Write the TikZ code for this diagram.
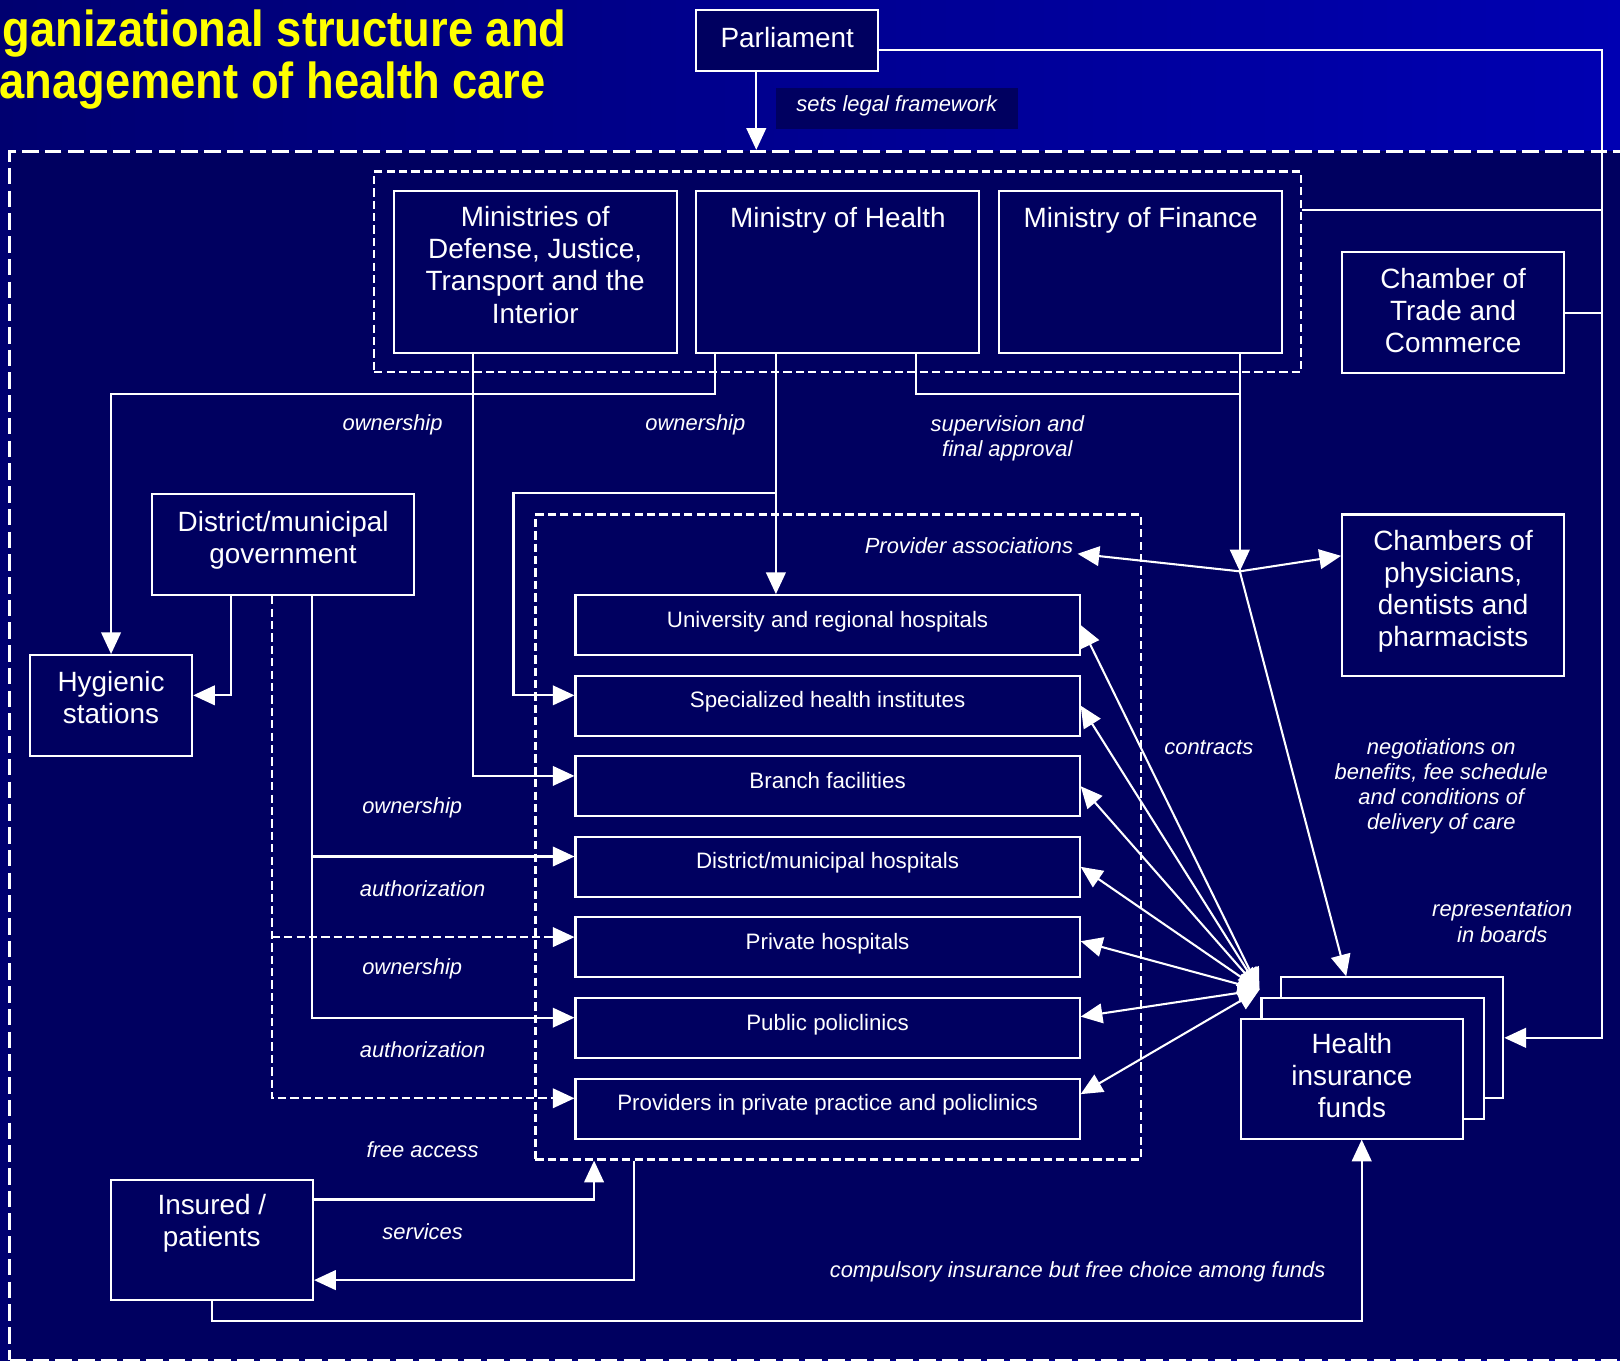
\documentclass[tikz,border=0pt]{standalone}
\usepackage{graphicx}
\usepackage{fontspec}
\setmainfont{Liberation Sans}
\usetikzlibrary{arrows.meta,calc}
\definecolor{navy}{RGB}{0,0,96}
\definecolor{slidel}{RGB}{0,0,112}
\definecolor{slider}{RGB}{0,0,178}
\definecolor{ttl}{RGB}{255,255,0}
\newcommand\bxfont{\fontsize{13.5}{15.5}\selectfont}
\newcommand\pvfont{\fontsize{10.8}{13}\selectfont}
\newcommand\lbfont{\fontsize{10.6}{12.2}\selectfont\itshape}

\begin{document}
\begin{tikzpicture}[x=.5pt, y=-.5pt,
  box/.style={draw=white, line width=1pt, fill=navy, text=white, font=\bxfont, align=center, anchor=north west, inner sep=0pt},
  prov/.style={box, font=\pvfont, minimum width=244pt, minimum height=29pt, text height=7.5pt, text depth=5.5pt},
  grp/.style={draw=white, line width=1.2pt, dash pattern=on 4pt off 2pt, anchor=north west, inner sep=0pt},
  mlbl/.style={text=white, font=\bxfont, inner sep=0pt, align=center},
  txt/.style={mlbl, anchor=center},
  lbl/.style={text=white, font=\lbfont, align=center, inner sep=0pt},
  conn/.style={draw=white, line width=1pt},
  dsh/.style={dash pattern=on 4pt off 2pt},
  harr/.style={-{Triangle[length=10.5pt,width=9.5pt]}},
  darr/.style={{Triangle[length=10.5pt,width=9.5pt]}-{Triangle[length=10.5pt,width=9.5pt]}}]
\useasboundingbox (0,0) rectangle (1568,1317);
\fill[left color=slidel, right color=slider] (0,0) rectangle (1568,1317);

% health care system
\node[draw=white, fill=navy, line width=1.5pt, dash pattern=on 8pt off 3pt, anchor=north west, inner sep=0pt, minimum width=787pt, minimum height=585pt] (hc) at (8,145) {};

% title
\node[anchor=base west, text=ttl, font=\fontsize{24.5}{28}\selectfont\bfseries, inner sep=0pt] (ttl1) at (2,45) {\scalebox{.895}[1]{ganizational structure and}};
\node[anchor=base west, text=ttl, font=\fontsize{24.5}{28}\selectfont\bfseries, inner sep=0pt] (ttl2) at (-1,95) {\scalebox{.895}[1]{anagement of health care}};

% boxes
\node[box, minimum width=88pt, minimum height=29.5pt, label={[txt, yshift=1.5pt]center:Parliament}] (parl) at (673,9) {};
\node[fill=navy, text=white, font=\lbfont, minimum width=117pt, minimum height=20pt, inner sep=0pt, text height=8pt, text depth=5pt] (slf) at (868,105) {sets legal framework};
\node[grp, minimum width=448.5pt, minimum height=97pt] (mins) at (361,165) {};
\node[box, minimum width=137pt, minimum height=78.5pt, label={[txt, yshift=3.5pt]center:{Ministries of\\Defense, Justice,\\Transport and the\\Interior}}] (mdef) at (380,184) {};
\node[box, minimum width=137pt, minimum height=78.5pt, label={[mlbl, anchor=north, yshift=-8pt]north:Ministry of Health}] (moh) at (673,184) {};
\node[box, minimum width=137pt, minimum height=78.5pt, label={[mlbl, anchor=north, yshift=-8pt]north:Ministry of Finance}] (mof) at (966,184) {};
\node[box, minimum width=107.5pt, minimum height=58.5pt, label={[txt, yshift=.75pt]center:{Chamber of\\Trade and\\Commerce}}] (ctc) at (1298,243) {};
\node[box, minimum width=107.5pt, minimum height=78pt, label={[txt, yshift=2pt]center:{Chambers of\\physicians,\\dentists and\\pharmacists}}] (chph) at (1298,497) {};
\node[box, minimum width=127pt, minimum height=49pt, label={[txt, yshift=2pt]center:{District/municipal\\government}}] (dist) at (146,477) {};
\node[box, minimum width=78.5pt, minimum height=49pt, label={[txt, yshift=3.75pt]center:{Hygienic\\stations}}] (hyg) at (28,633) {};

\node[grp, minimum width=293pt, minimum height=312pt] (pg) at (517,497) {};
\node[prov] (univ) at (556,575) {University and regional hospitals};
\node[prov] (spec) at (556,653) {Specialized health institutes};
\node[prov] (brch) at (556,731) {Branch facilities};
\node[prov] (dmh) at (556,809) {District/municipal hospitals};
\node[prov] (priv) at (556,887) {Private hospitals};
\node[prov] (pub) at (556,965) {Public policlinics};
\node[prov] (ppp) at (556,1043) {Providers in private practice and policlinics};

\node[box, minimum width=107.5pt, minimum height=58.5pt] (hifc) at (1239,945) {};
\node[box, minimum width=107.5pt, minimum height=58.5pt] (hifb) at (1220,965) {};
\node[box, minimum width=107.5pt, minimum height=58pt, label={[txt, yshift=1.5pt]center:{Health\\insurance\\funds}}] (hifa) at (1200,985) {};
\node[box, minimum width=98pt, minimum height=58pt, label={[txt, yshift=8pt]center:{Insured /\\patients}}] (ins) at (106,1141) {};

% labels
\node[lbl] (own1) at (380,411) {ownership};
\node[lbl] (own2) at (673,411) {ownership};
\node[lbl] (sup) at (975,424) {supervision and\\final approval};
\node[lbl, anchor=east] (passoc) at (1039,528) {Provider associations};
\node[lbl] (ctrl) at (1170,724) {contracts};
\node[lbl] (negl) at (1395,761) {negotiations on\\benefits, fee schedule\\and conditions of\\delivery of care};
\node[lbl] (repl) at (1454,892) {representation\\in boards};
\node[lbl] (own3) at (399,782) {ownership};
\node[lbl] (auth1) at (409,860) {authorization};
\node[lbl] (own4) at (399,938) {ownership};
\node[lbl] (auth2) at (409,1016) {authorization};
\node[lbl] (facc) at (409,1113) {free access};
\node[lbl] (serv) at (409,1192) {services};
\node[lbl] (comp) at (1043,1231) {compulsory insurance but free choice among funds};

% connectors
\coordinate (pA) at ($(parl.south)+(-30,0)$);
\coordinate (rail) at (1551,0);
\coordinate (neg) at (1200,553);
\coordinate (ctr) at (1219,958);
\draw[conn,harr] (pA) -- (pA |- hc.north);
\draw[conn,harr] ($(parl.east)+(0,9)$) -| (rail |- hifc.east) -- (hifc.east);
\draw[conn] ($(mins.north east)+(0,38)$) coordinate (mB) -- (mB -| rail);
\draw[conn] (ctc.east) -- (ctc.east -| rail);

\draw[conn,harr] ($(moh.south west)+(19,0)$) -- ++(0,38) -| (hyg.north);
\draw[conn,harr] ($(moh.south west)+(78,0)$) coordinate (mC) -- (mC |- univ.north);
\draw[conn,harr] (mC |- dist.north) -| ($(spec.west)+(-59,-10)$) -- ($(spec.west)+(0,-10)$);
\draw[conn,harr] ($(mdef.south west)+(78,0)$) |- ($(brch.west)+(0,-10)$);
\draw[conn] ($(moh.south west)+(214,0)$) -- ++(0,38) -| (neg);
\draw[conn,harr] (mof.south -| neg) -- (neg);
\draw[conn,harr] (neg) -- ($(passoc.east)+(4,8)$);
\draw[conn,harr] (neg) -- ($(chph.west)+(0,-38)$);
\draw[conn,harr] (neg) -- ($(hifc.north west)+(64,0)$);

\draw[conn,harr] ($(dist.south west)+(78,0)$) |- ($(hyg.east)+(0,-10)$);
\draw[conn,dsh,harr] ($(dist.south west)+(117,0)$) coordinate (dA) |- ($(ppp.west)+(0,-10)$);
\draw[conn,dsh,harr] ($(priv.west -| dA)+(0,-10)$) -- ($(priv.west)+(0,-10)$);
\draw[conn,harr] ($(dist.south west)+(156,0)$) coordinate (dB) |- ($(pub.west)+(0,-10)$);
\draw[conn,harr] ($(dmh.west -| dB)+(0,-10)$) -- ($(dmh.west)+(0,-10)$);

\draw[conn,darr] (ctr) -- (univ.east);
\draw[conn,darr] (ctr) -- (spec.east);
\draw[conn,darr] (ctr) -- (brch.east);
\draw[conn,darr] (ctr) -- (dmh.east);
\draw[conn,darr] (ctr) -- ($(priv.east)+(0,-6)$);
\draw[conn,darr] (ctr) -- ($(pub.east)+(0,-11)$);
\draw[conn,darr] (ctr) -- ($(ppp.east)+(0,-14)$);

\draw[conn,harr] ($(ins.east)+(0,-39)$) -| ($(pg.south west)+(58,0)$);
\draw[conn,harr] ($(pg.south west)+(97,0)$) |- ($(ins.east)+(0,39)$);
\draw[conn,harr] (ins.south) -- ++(0,20) -| ($(hifa.south)+(9.5,0)$);
\end{tikzpicture}
\end{document}
